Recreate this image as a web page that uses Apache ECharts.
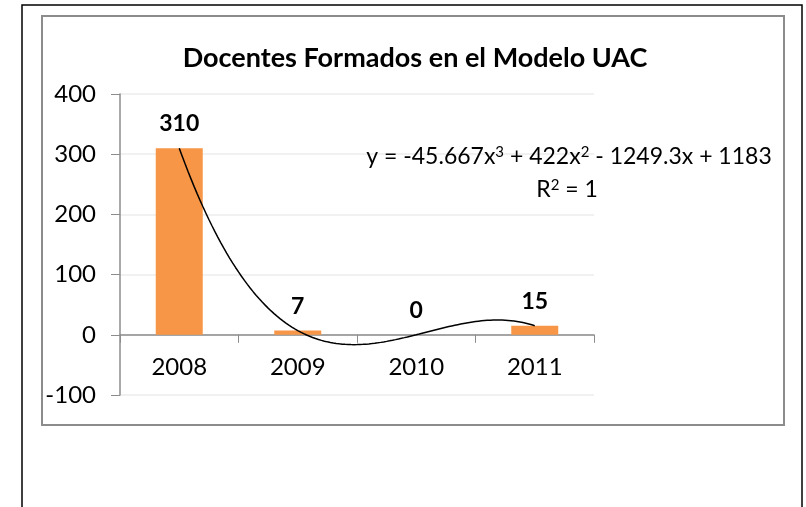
<!DOCTYPE html>
<html>
<head>
<meta charset="utf-8">
<script src="https://cdn.jsdelivr.net/npm/echarts@6/dist/echarts.min.js"></script>
<style>
  html, body { margin: 0; padding: 0; background: #fff; }
  #chart { width: 806px; height: 507px; }
</style>
</head>
<body>
<div id="chart"></div>
<script>
const years = ['2008', '2009', '2010', '2011']
const docentes = [310, 7, 0, 15]
const yTicks = [-100, 0, 100, 200, 300, 400]
// coeficientes de la línea de tendencia (polinómica grado 3, x = 1..4)
const trendCoef = [1183, -1249.3, 422, -45.667]
const trendText = ['y = -45.667x{s|3} + 422x{s|2} - 1249.3x + 1183', 'R{s|2} = 1']

const font = 'Lato, "Open Sans", sans-serif'
const gridTop = 94
const gridBottom = 112
const plotH = 507 - gridTop - gridBottom

// puntos de la curva de tendencia
const trendData = []
for (let i = 0; i <= 120; i++) {
  const x = 1 + (i / 120) * (years.length - 1)
  let y = 0
  trendCoef.forEach((c, k) => { y += c * Math.pow(x, k) })
  trendData.push([x, y])
}

const yMin = yTicks[0]
const yMax = yTicks[yTicks.length - 1]
// desplazar el eje de categorías hasta el cero
const zeroOffset = plotH * (0 - yMin) / (yMax - yMin)

const eqStyle = {
  align: 'center', verticalAlign: 'middle', fill: '#000',
  font: '23px ' + font,
  rich: { s: { font: '15px ' + font, fill: '#000', padding: [0, 0, 10, 0] } }
}

const chart = echarts.init(document.getElementById('chart'))
const option = {
  animation: false,
  grid: { left: 120, right: 212, top: gridTop, bottom: gridBottom },
  graphic: [
    {
      type: 'rect', silent: true, z: -10,
      shape: { x: 22, y: 5, width: 780, height: 520 },
      style: { fill: '#fff', stroke: '#000', lineWidth: 1.5 }
    },
    {
      type: 'rect', silent: true, z: -9,
      shape: { x: 42, y: 16, width: 742, height: 409 },
      style: { fill: '#fff', stroke: '#8c8c8c', lineWidth: 2 }
    },
    {
      type: 'text', z: 10,
      style: { text: 'Docentes Formados en el Modelo UAC', x: 415, y: 58, align: 'center', verticalAlign: 'middle', fill: '#000', font: 'bold 27px ' + font }
    },
    {
      type: 'text', z: 10,
      style: Object.assign({ text: trendText[0], x: 569, y: 157 }, eqStyle)
    },
    {
      type: 'text', z: 10,
      style: Object.assign({ text: trendText[1], x: 567, y: 190 }, eqStyle)
    }
  ],
  xAxis: [
    {
      type: 'category',
      data: years,
      offset: -zeroOffset,
      axisLine: { onZero: false, lineStyle: { color: '#8c8c8c', width: 1.5 } },
      axisTick: { show: true, length: 8, lineStyle: { color: '#8c8c8c' } },
      axisLabel: { color: '#000', fontSize: 24, fontFamily: font, margin: 20 }
    },
    {
      type: 'value', min: 0.5, max: years.length + 0.5, show: false
    }
  ],
  yAxis: {
    type: 'value',
    min: yMin,
    max: yMax,
    interval: 100,
    axisLine: { show: true, lineStyle: { color: '#8c8c8c', width: 1.5 } },
    axisTick: { show: true, length: 9, lineStyle: { color: '#8c8c8c' } },
    axisLabel: { color: '#000', fontSize: 24, fontFamily: font, margin: 24 },
    splitLine: { lineStyle: { color: '#ececec', width: 1.5 } }
  },
  series: [
    {
      type: 'bar',
      data: docentes,
      barWidth: 47,
      itemStyle: { color: '#f79646' },
      label: {
        show: true, position: 'top', distance: 13,
        color: '#000', fontWeight: 'bold', fontSize: 23, fontFamily: font
      }
    },
    {
      type: 'line',
      xAxisIndex: 1,
      data: trendData,
      showSymbol: false,
      silent: true,
      lineStyle: { color: '#000', width: 1.5 },
      z: 5
    }
  ]
}
chart.setOption(option)
</script>
</body>
</html>
